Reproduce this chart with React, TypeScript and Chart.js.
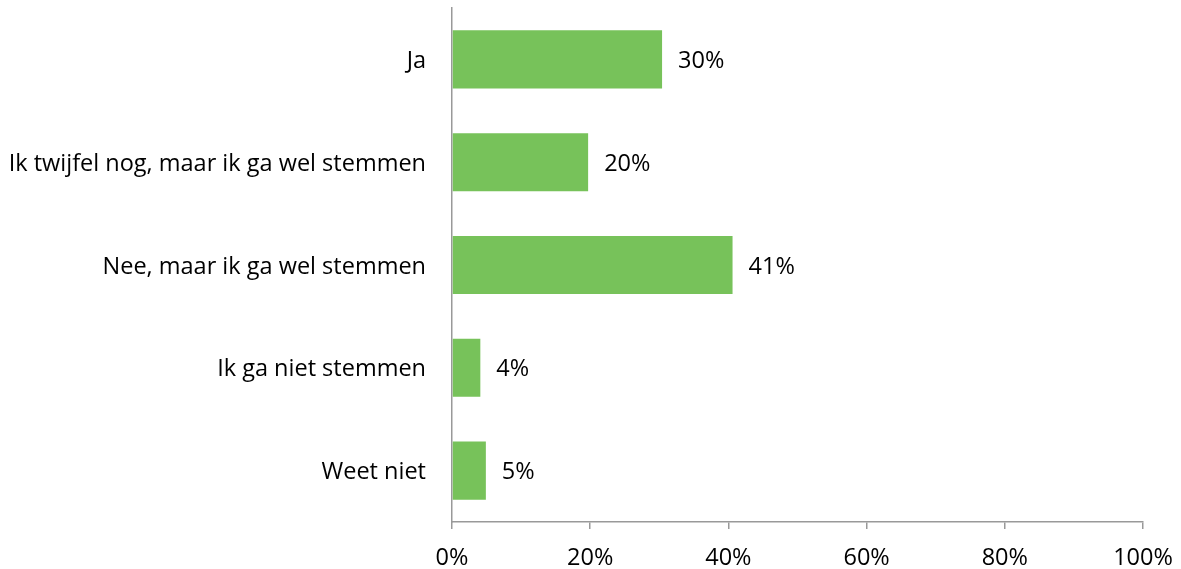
import React, { useEffect, useRef } from "react";
import { Chart, registerables } from "chart.js";

Chart.register(...registerables);

const categories = [
  "Ja",
  "Ik twijfel nog, maar ik ga wel stemmen",
  "Nee, maar ik ga wel stemmen",
  "Ik ga niet stemmen",
  "Weet niet",
];
const values = [30.4, 19.7, 40.6, 4.1, 4.9];
const valueLabels = ["30%", "20%", "41%", "4%", "5%"];
const xTicks = [0, 20, 40, 60, 80, 100];

const FONT = "'Open Sans', 'Liberation Sans', sans-serif";
const FSIZE = 23.5;

const labelPlugin = {
  id: "barLabels",
  afterDatasetsDraw(chart: any) {
    const { ctx } = chart;
    const meta = chart.getDatasetMeta(0);
    ctx.save();
    ctx.font = `${FSIZE}px ${FONT}`;
    ctx.fillStyle = "#000";
    ctx.textAlign = "left";
    ctx.textBaseline = "middle";
    meta.data.forEach((bar: any, i: number) => {
      ctx.fillText(valueLabels[i], bar.x + 16, bar.y + 2);
    });
    ctx.restore();
  },
};

export default function App() {
  const ref = useRef<HTMLCanvasElement>(null);
  useEffect(() => {
    if (!ref.current) return;
    const chart = new Chart(ref.current, {
      type: "bar",
      data: {
        labels: categories,
        datasets: [
          {
            data: values,
            backgroundColor: "#77C25A",
            barPercentage: 0.565,
            categoryPercentage: 1,
          },
        ],
      },
      options: {
        indexAxis: "y",
        animation: false,
        responsive: false,
        maintainAspectRatio: false,
        layout: { padding: { top: 8, right: 38, left: 0, bottom: 0 } },
        plugins: {
          legend: { display: false },
          tooltip: { enabled: false },
        },
        scales: {
          x: {
            min: 0,
            max: 100,
            afterBuildTicks: (s: any) => {
              s.ticks = xTicks.map((v) => ({ value: v }));
            },
            afterFit: (s: any) => {
              s.height = 569 - 522;
              s.paddingLeft = 0;
              s.paddingRight = 0;
            },
            grid: {
              display: true,
              drawOnChartArea: false,
              drawTicks: true,
              tickLength: 7,
              color: "#999",
              lineWidth: 1.5,
            },
            border: { display: true, color: "#999", width: 1.5 },
            ticks: {
              color: "#000",
              font: { family: FONT, size: FSIZE },
              padding: 15,
              callback: (v: any) => `${v}%`,
              maxRotation: 0,
            },
          },
          y: {
            afterFit: (s: any) => {
              s.width = 452;
              s.paddingTop = 0;
              s.paddingBottom = 0;
            },
            grid: { display: false, drawTicks: false },
            border: { display: true, color: "#999", width: 1.5 },
            ticks: {
              color: "#000",
              font: { family: FONT, size: FSIZE },
              padding: 26,
              labelOffset: 2,
            },
          },
        },
      },
      plugins: [labelPlugin],
    });
    return () => chart.destroy();
  }, []);
  return (
    <div style={{ position: "fixed", left: 0, top: 0, width: 1181, height: 569, background: "#fff" }}>
      <canvas ref={ref} width={1181} height={569} />
    </div>
  );
}
